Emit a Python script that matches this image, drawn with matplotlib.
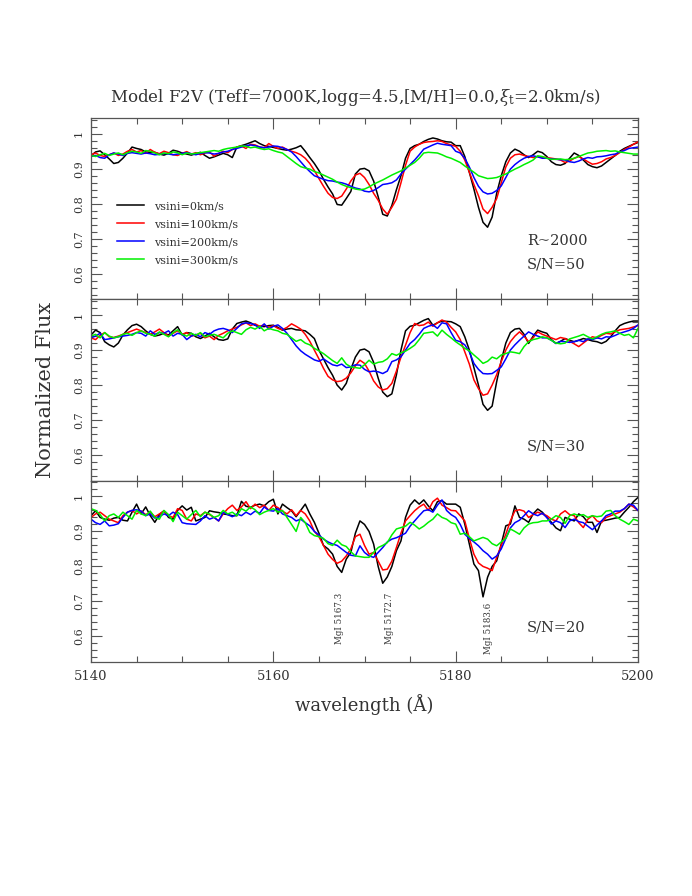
import numpy as np
import matplotlib
matplotlib.use("Agg")
import matplotlib.pyplot as plt
from matplotlib.ticker import MultipleLocator, FuncFormatter

plt.rcParams['font.family'] = ['DejaVu Serif']
plt.rcParams['mathtext.fontset'] = 'dejavuserif'

# wavelength grid (Angstrom), 0.5 A sampling from 5140 to 5200
wave_start = 5140.0
wave_step = 0.5

series_labels = ["vsini=0km/s", "vsini=100km/s", "vsini=200km/s", "vsini=300km/s"]
series_colors = ["black", "#ff0000", "#0000ff", "#00f000"]

# ---------------- S/N = 50 ----------------
sn50_v0 = [
0.937, 0.948, 0.951, 0.940, 0.928, 0.915, 0.918, 0.930, 0.945, 0.962,
0.958, 0.955, 0.948, 0.946, 0.947, 0.942, 0.939, 0.944, 0.953, 0.950,
0.945, 0.942, 0.939, 0.943, 0.947, 0.938, 0.930, 0.934, 0.939, 0.944,
0.940, 0.932, 0.962, 0.966, 0.970, 0.975, 0.980, 0.972, 0.966, 0.964,
0.961, 0.958, 0.955, 0.953, 0.956, 0.960, 0.966, 0.950, 0.932, 0.915,
0.895, 0.870, 0.848, 0.828, 0.798, 0.796, 0.815, 0.835, 0.885, 0.899,
0.901, 0.894, 0.865, 0.820, 0.770, 0.765, 0.795, 0.840, 0.880, 0.930,
0.958, 0.966, 0.970, 0.978, 0.984, 0.988, 0.985, 0.980, 0.977, 0.976,
0.966, 0.966, 0.935, 0.890, 0.842, 0.790, 0.747, 0.733, 0.762, 0.830,
0.880, 0.920, 0.945, 0.956, 0.950, 0.940, 0.932, 0.940, 0.950, 0.946,
0.935, 0.920, 0.912, 0.910, 0.915, 0.930, 0.945, 0.938, 0.925, 0.912,
0.906, 0.903, 0.908, 0.918, 0.928, 0.938, 0.950, 0.958, 0.964, 0.970,
0.975]
sn50_v100 = [
0.940, 0.945, 0.938, 0.935, 0.940, 0.945, 0.938, 0.942, 0.950, 0.955,
0.948, 0.952, 0.944, 0.955, 0.947, 0.943, 0.950, 0.946, 0.940, 0.938,
0.944, 0.949, 0.942, 0.946, 0.940, 0.945, 0.948, 0.936, 0.944, 0.950,
0.946, 0.955, 0.962, 0.965, 0.958, 0.970, 0.968, 0.962, 0.960, 0.972,
0.964, 0.958, 0.962, 0.955, 0.950, 0.946, 0.940, 0.930, 0.915, 0.895,
0.872, 0.850, 0.830, 0.818, 0.815, 0.822, 0.842, 0.865, 0.882, 0.887,
0.875, 0.855, 0.830, 0.810, 0.785, 0.770, 0.790, 0.813, 0.860, 0.910,
0.950, 0.962, 0.970, 0.975, 0.977, 0.978, 0.980, 0.978, 0.972, 0.968,
0.964, 0.950, 0.925, 0.890, 0.855, 0.823, 0.785, 0.772, 0.790, 0.815,
0.860, 0.905, 0.930, 0.940, 0.942, 0.938, 0.935, 0.932, 0.935, 0.933,
0.932, 0.930, 0.928, 0.925, 0.918, 0.922, 0.930, 0.935, 0.928, 0.920,
0.913, 0.915, 0.920, 0.928, 0.932, 0.938, 0.946, 0.955, 0.962, 0.970,
0.977]
sn50_v200 = [
0.935, 0.938, 0.932, 0.930, 0.940, 0.945, 0.942, 0.938, 0.944, 0.946,
0.944, 0.942, 0.945, 0.943, 0.940, 0.941, 0.944, 0.942, 0.940, 0.942,
0.944, 0.946, 0.943, 0.940, 0.944, 0.946, 0.945, 0.942, 0.944, 0.948,
0.950, 0.955, 0.958, 0.962, 0.966, 0.968, 0.966, 0.962, 0.960, 0.962,
0.965, 0.964, 0.960, 0.955, 0.948, 0.935, 0.920, 0.905, 0.892, 0.880,
0.875, 0.870, 0.866, 0.865, 0.862, 0.860, 0.856, 0.850, 0.845, 0.842,
0.836, 0.834, 0.838, 0.846, 0.855, 0.857, 0.860, 0.868, 0.885, 0.899,
0.912, 0.925, 0.940, 0.956, 0.962, 0.968, 0.973, 0.970, 0.968, 0.966,
0.950, 0.945, 0.930, 0.905, 0.875, 0.850, 0.834, 0.828, 0.830, 0.838,
0.851, 0.875, 0.899, 0.912, 0.922, 0.930, 0.935, 0.937, 0.934, 0.930,
0.930, 0.928, 0.927, 0.926, 0.925, 0.920, 0.918, 0.922, 0.928, 0.932,
0.930, 0.934, 0.935, 0.937, 0.940, 0.942, 0.948, 0.952, 0.958, 0.960,
0.962]
sn50_v300 = [
0.938, 0.935, 0.940, 0.944, 0.938, 0.942, 0.945, 0.940, 0.946, 0.950,
0.948, 0.944, 0.952, 0.950, 0.945, 0.940, 0.945, 0.943, 0.948, 0.946,
0.940, 0.945, 0.942, 0.944, 0.946, 0.948, 0.950, 0.952, 0.950, 0.955,
0.958, 0.960, 0.962, 0.965, 0.964, 0.960, 0.962, 0.958, 0.955, 0.957,
0.952, 0.948, 0.945, 0.935, 0.925, 0.915, 0.906, 0.902, 0.899, 0.892,
0.888, 0.882, 0.876, 0.870, 0.862, 0.855, 0.850, 0.846, 0.842, 0.840,
0.842, 0.848, 0.856, 0.862, 0.868, 0.875, 0.882, 0.888, 0.894, 0.902,
0.910, 0.918, 0.930, 0.945, 0.947, 0.946, 0.945, 0.940, 0.934, 0.930,
0.924, 0.918, 0.908, 0.899, 0.890, 0.880, 0.876, 0.872, 0.873, 0.875,
0.880, 0.885, 0.892, 0.899, 0.905, 0.912, 0.918, 0.925, 0.937, 0.935,
0.930, 0.927, 0.927, 0.928, 0.926, 0.927, 0.930, 0.935, 0.940, 0.945,
0.947, 0.950, 0.951, 0.952, 0.950, 0.951, 0.948, 0.946, 0.944, 0.942,
0.942]

# ---------------- S/N = 30 ----------------
sn30_v0 = [
0.943, 0.957, 0.950, 0.924, 0.915, 0.909, 0.920, 0.943, 0.958, 0.970,
0.974, 0.967, 0.955, 0.945, 0.940, 0.943, 0.948, 0.943, 0.955, 0.967,
0.943, 0.950, 0.948, 0.938, 0.933, 0.940, 0.948, 0.938, 0.930, 0.928,
0.932, 0.960, 0.976, 0.980, 0.983, 0.978, 0.971, 0.968, 0.967, 0.970,
0.971, 0.965, 0.957, 0.960, 0.962, 0.958, 0.957, 0.955, 0.945, 0.933,
0.900, 0.875, 0.850, 0.828, 0.800, 0.786, 0.805, 0.845, 0.880, 0.900,
0.903, 0.895, 0.865, 0.820, 0.780, 0.767, 0.775, 0.829, 0.900, 0.955,
0.968, 0.971, 0.978, 0.985, 0.990, 0.971, 0.978, 0.983, 0.982, 0.981,
0.975, 0.967, 0.938, 0.900, 0.850, 0.800, 0.745, 0.728, 0.740, 0.810,
0.870, 0.920, 0.950, 0.960, 0.962, 0.945, 0.919, 0.940, 0.957, 0.952,
0.948, 0.930, 0.919, 0.925, 0.933, 0.928, 0.924, 0.928, 0.933, 0.930,
0.926, 0.924, 0.919, 0.925, 0.938, 0.955, 0.970, 0.976, 0.980, 0.983,
0.983]
sn30_v100 = [
0.935, 0.930, 0.942, 0.950, 0.938, 0.936, 0.940, 0.945, 0.950, 0.955,
0.960, 0.955, 0.950, 0.945, 0.952, 0.960, 0.950, 0.940, 0.948, 0.955,
0.945, 0.950, 0.940, 0.943, 0.948, 0.935, 0.940, 0.930, 0.942, 0.948,
0.955, 0.960, 0.965, 0.972, 0.978, 0.970, 0.975, 0.968, 0.972, 0.965,
0.970, 0.962, 0.958, 0.965, 0.975, 0.968, 0.960, 0.945, 0.925, 0.900,
0.875, 0.848, 0.825, 0.815, 0.810, 0.812, 0.820, 0.835, 0.855, 0.871,
0.862, 0.840, 0.812, 0.795, 0.786, 0.790, 0.805, 0.840, 0.880, 0.914,
0.950, 0.976, 0.970, 0.972, 0.980, 0.968, 0.978, 0.986, 0.980, 0.965,
0.952, 0.930, 0.895, 0.860, 0.815, 0.790, 0.771, 0.775, 0.800, 0.830,
0.867, 0.900, 0.924, 0.940, 0.952, 0.940, 0.924, 0.935, 0.952, 0.945,
0.940, 0.935, 0.930, 0.936, 0.933, 0.925, 0.918, 0.910, 0.920, 0.930,
0.938, 0.935, 0.942, 0.948, 0.946, 0.952, 0.958, 0.960, 0.962, 0.966,
0.970]
sn30_v200 = [
0.935, 0.940, 0.948, 0.930, 0.932, 0.935, 0.938, 0.940, 0.942, 0.945,
0.950, 0.948, 0.940, 0.955, 0.945, 0.950, 0.948, 0.955, 0.940, 0.948,
0.945, 0.930, 0.940, 0.945, 0.938, 0.950, 0.945, 0.955, 0.960, 0.962,
0.958, 0.950, 0.962, 0.975, 0.978, 0.976, 0.972, 0.962, 0.975, 0.960,
0.968, 0.972, 0.962, 0.948, 0.930, 0.912, 0.898, 0.888, 0.880, 0.872,
0.868, 0.875, 0.866, 0.858, 0.855, 0.860, 0.850, 0.852, 0.858, 0.857,
0.845, 0.838, 0.840, 0.838, 0.833, 0.840, 0.867, 0.872, 0.881, 0.900,
0.919, 0.930, 0.945, 0.962, 0.968, 0.972, 0.962, 0.978, 0.975, 0.950,
0.928, 0.924, 0.915, 0.895, 0.862, 0.845, 0.833, 0.832, 0.833, 0.842,
0.852, 0.875, 0.900, 0.915, 0.928, 0.940, 0.952, 0.945, 0.940, 0.935,
0.935, 0.928, 0.919, 0.925, 0.924, 0.922, 0.924, 0.928, 0.924, 0.932,
0.930, 0.935, 0.932, 0.938, 0.937, 0.942, 0.948, 0.952, 0.956, 0.962,
0.972]
sn30_v300 = [
0.940, 0.945, 0.935, 0.950, 0.940, 0.935, 0.938, 0.945, 0.948, 0.942,
0.950, 0.955, 0.948, 0.945, 0.940, 0.952, 0.945, 0.938, 0.950, 0.958,
0.945, 0.940, 0.948, 0.942, 0.950, 0.938, 0.942, 0.945, 0.940, 0.935,
0.948, 0.955, 0.950, 0.945, 0.958, 0.965, 0.960, 0.968, 0.955, 0.962,
0.958, 0.955, 0.948, 0.945, 0.935, 0.925, 0.930, 0.920, 0.915, 0.905,
0.898, 0.890, 0.880, 0.870, 0.862, 0.878, 0.860, 0.852, 0.850, 0.848,
0.858, 0.871, 0.860, 0.865, 0.867, 0.875, 0.890, 0.885, 0.892, 0.897,
0.905, 0.914, 0.930, 0.948, 0.950, 0.952, 0.940, 0.957, 0.945, 0.935,
0.924, 0.915, 0.905, 0.898, 0.886, 0.875, 0.862, 0.868, 0.880, 0.875,
0.886, 0.890, 0.895, 0.893, 0.890, 0.910, 0.924, 0.930, 0.933, 0.938,
0.935, 0.928, 0.920, 0.918, 0.920, 0.932, 0.936, 0.940, 0.945, 0.938,
0.932, 0.938, 0.945, 0.950, 0.952, 0.955, 0.948, 0.942, 0.945, 0.935,
0.962]

# ---------------- S/N = 20 ----------------
sn20_v0 = [
0.945, 0.959, 0.940, 0.935, 0.932, 0.938, 0.940, 0.932, 0.930, 0.955,
0.978, 0.950, 0.970, 0.945, 0.926, 0.948, 0.959, 0.940, 0.935, 0.960,
0.973, 0.961, 0.969, 0.930, 0.935, 0.940, 0.959, 0.956, 0.954, 0.950,
0.948, 0.945, 0.945, 0.986, 0.972, 0.969, 0.975, 0.978, 0.973, 0.985,
0.992, 0.950, 0.978, 0.968, 0.959, 0.942, 0.960, 0.978, 0.950, 0.926,
0.895, 0.860, 0.850, 0.835, 0.800, 0.783, 0.821, 0.840, 0.895, 0.930,
0.920, 0.900, 0.864, 0.800, 0.752, 0.770, 0.800, 0.845, 0.873, 0.940,
0.975, 0.990, 0.978, 0.990, 0.973, 0.959, 0.985, 0.988, 0.978, 0.978,
0.978, 0.969, 0.921, 0.864, 0.807, 0.788, 0.713, 0.769, 0.800, 0.816,
0.864, 0.916, 0.921, 0.973, 0.940, 0.935, 0.926, 0.950, 0.964, 0.955,
0.940, 0.926, 0.910, 0.902, 0.940, 0.935, 0.930, 0.950, 0.942, 0.926,
0.926, 0.897, 0.930, 0.932, 0.935, 0.938, 0.940, 0.955, 0.969, 0.985,
0.997]
sn20_v100 = [
0.940, 0.950, 0.955, 0.945, 0.935, 0.930, 0.925, 0.945, 0.955, 0.960,
0.950, 0.958, 0.948, 0.955, 0.942, 0.950, 0.958, 0.945, 0.940, 0.965,
0.960, 0.935, 0.930, 0.950, 0.945, 0.955, 0.948, 0.940, 0.930, 0.950,
0.965, 0.975, 0.960, 0.970, 0.985, 0.965, 0.978, 0.968, 0.975, 0.960,
0.975, 0.968, 0.958, 0.950, 0.962, 0.945, 0.960, 0.950, 0.930, 0.900,
0.885, 0.860, 0.835, 0.820, 0.809, 0.815, 0.830, 0.850, 0.885, 0.892,
0.860, 0.835, 0.840, 0.815, 0.790, 0.792, 0.815, 0.854, 0.895, 0.930,
0.945, 0.959, 0.970, 0.978, 0.960, 0.985, 0.995, 0.975, 0.968, 0.960,
0.959, 0.945, 0.930, 0.880, 0.835, 0.810, 0.800, 0.795, 0.788, 0.826,
0.860, 0.892, 0.930, 0.959, 0.962, 0.958, 0.940, 0.948, 0.955, 0.950,
0.945, 0.935, 0.930, 0.950, 0.959, 0.948, 0.945, 0.925, 0.911, 0.935,
0.945, 0.930, 0.925, 0.940, 0.945, 0.950, 0.955, 0.965, 0.978, 0.970,
0.960]
sn20_v200 = [
0.935, 0.925, 0.920, 0.930, 0.916, 0.918, 0.922, 0.940, 0.955, 0.960,
0.962, 0.958, 0.945, 0.950, 0.938, 0.942, 0.950, 0.945, 0.955, 0.948,
0.925, 0.922, 0.921, 0.920, 0.930, 0.945, 0.935, 0.940, 0.930, 0.955,
0.948, 0.942, 0.950, 0.945, 0.955, 0.948, 0.958, 0.952, 0.970, 0.960,
0.958, 0.965, 0.950, 0.945, 0.940, 0.930, 0.935, 0.925, 0.916, 0.900,
0.890, 0.878, 0.870, 0.864, 0.860, 0.850, 0.840, 0.832, 0.830, 0.859,
0.840, 0.830, 0.826, 0.840, 0.854, 0.870, 0.878, 0.882, 0.888, 0.895,
0.915, 0.930, 0.945, 0.959, 0.962, 0.955, 0.975, 0.990, 0.960, 0.948,
0.940, 0.920, 0.892, 0.880, 0.870, 0.859, 0.845, 0.835, 0.821, 0.830,
0.850, 0.880, 0.910, 0.925, 0.932, 0.945, 0.959, 0.950, 0.945, 0.952,
0.940, 0.921, 0.930, 0.925, 0.911, 0.930, 0.935, 0.928, 0.925, 0.915,
0.905, 0.918, 0.930, 0.945, 0.950, 0.958, 0.958, 0.965, 0.978, 0.975,
0.960]
sn20_v300 = [
0.965, 0.960, 0.948, 0.930, 0.945, 0.950, 0.940, 0.955, 0.945, 0.935,
0.960, 0.950, 0.945, 0.958, 0.940, 0.935, 0.960, 0.948, 0.928, 0.955,
0.945, 0.935, 0.948, 0.960, 0.942, 0.955, 0.950, 0.940, 0.945, 0.960,
0.950, 0.955, 0.945, 0.965, 0.958, 0.970, 0.962, 0.948, 0.955, 0.960,
0.965, 0.955, 0.960, 0.940, 0.920, 0.900, 0.940, 0.925, 0.897, 0.888,
0.885, 0.880, 0.865, 0.860, 0.875, 0.862, 0.857, 0.842, 0.830, 0.828,
0.826, 0.826, 0.840, 0.854, 0.860, 0.868, 0.890, 0.907, 0.911, 0.915,
0.926, 0.918, 0.907, 0.915, 0.926, 0.935, 0.950, 0.940, 0.935, 0.925,
0.921, 0.892, 0.895, 0.885, 0.873, 0.878, 0.883, 0.878, 0.865, 0.859,
0.870, 0.880, 0.907, 0.900, 0.892, 0.910, 0.921, 0.925, 0.926, 0.930,
0.930, 0.935, 0.945, 0.940, 0.923, 0.945, 0.950, 0.945, 0.948, 0.940,
0.945, 0.942, 0.944, 0.958, 0.960, 0.945, 0.935, 0.928, 0.920, 0.935,
0.930]

panel_series = [
    [sn50_v0, sn50_v100, sn50_v200, sn50_v300],
    [sn30_v0, sn30_v100, sn30_v200, sn30_v300],
    [sn20_v0, sn20_v100, sn20_v200, sn20_v300],
]
panel_notes = [["R~2000", "S/N=50"], ["S/N=30"], ["S/N=20"]]

line_names = ["MgI 5167.3", "MgI 5172.7", "MgI 5183.6"]
line_waves = [5167.3, 5172.7, 5183.6]
line_label_top = [0.726, 0.726, 0.697]

title = r"Model F2V (Teff=7000K,logg=4.5,[M/H]=0.0,$\xi_{\rm t}$=2.0km/s)"

# ---------------- figure ----------------
W, H = 692, 896
fig = plt.figure(figsize=(W / 100, H / 100), dpi=100)
left = 91 / W
width = (638 - 91) / W
ph = (662 - 118) / 3 / H
bottom0 = 1 - 662 / H
ylim = (0.527, 1.045)
frame_col = "#555555"
text_col = "#333333"

axes = []
for i in range(3):
    ax = fig.add_axes([left, bottom0 + (2 - i) * ph, width, ph])
    axes.append(ax)
    for j, ys in enumerate(panel_series[i]):
        assert len(ys) == 121, (i, j, len(ys))
        wl = wave_start + wave_step * np.arange(len(ys))
        ax.plot(wl, ys, color=series_colors[j], lw=1.1, label=series_labels[j])
    ax.set_xlim(5140, 5200)
    ax.set_ylim(*ylim)
    ax.xaxis.set_major_locator(MultipleLocator(20))
    ax.xaxis.set_minor_locator(MultipleLocator(5))
    ax.yaxis.set_major_locator(MultipleLocator(0.1))
    ax.yaxis.set_minor_locator(MultipleLocator(0.02))
    ax.yaxis.set_major_formatter(FuncFormatter(lambda v, p: "%g" % round(v, 2)))
    ax.tick_params(which="both", direction="in", top=True, right=True,
                   color=frame_col, width=0.8)
    ax.tick_params(which="major", length=8)
    ax.tick_params(which="minor", length=4)
    ax.tick_params(axis="y", labelsize=8, labelcolor=text_col, pad=5)
    ax.tick_params(axis="x", labelsize=9.5, labelcolor=text_col, pad=6)
    for lab in ax.get_yticklabels():
        lab.set_rotation(90)
        lab.set_va("center")
    for s in ax.spines.values():
        s.set_color(frame_col)
        s.set_linewidth(0.9)
    if i < 2:
        ax.tick_params(axis="x", labelbottom=False)
    notes = panel_notes[i]
    ys_note = [0.694, 0.626] if len(notes) == 2 else [0.626]
    for t, yv in zip(notes, ys_note):
        ax.text(5187.8, yv, t, fontsize=10.5, color=text_col, va="center", ha="left")

leg = axes[0].legend(loc="upper left", bbox_to_anchor=(0.04, 0.565), frameon=False,
                     fontsize=8, handlelength=2.4, handletextpad=0.9,
                     labelspacing=0.72, borderaxespad=0)
for t in leg.get_texts():
    t.set_color(text_col)

for name, wv, yt in zip(line_names, line_waves, line_label_top):
    axes[2].text(wv, yt, name, rotation=90, fontsize=6.3, color=text_col,
                 ha="center", va="top")

fig.text(355 / W, 1 - 98 / H, title, fontsize=12, color=text_col, ha="center", va="center")
fig.text(46 / W, 1 - 390 / H, "Normalized Flux", fontsize=15, color=text_col,
         rotation=90, ha="center", va="center")
fig.text(364 / W, 1 - 705 / H, "wavelength (Å)", fontsize=13, color=text_col,
         ha="center", va="center")

fig.savefig("out.png", dpi=100)
